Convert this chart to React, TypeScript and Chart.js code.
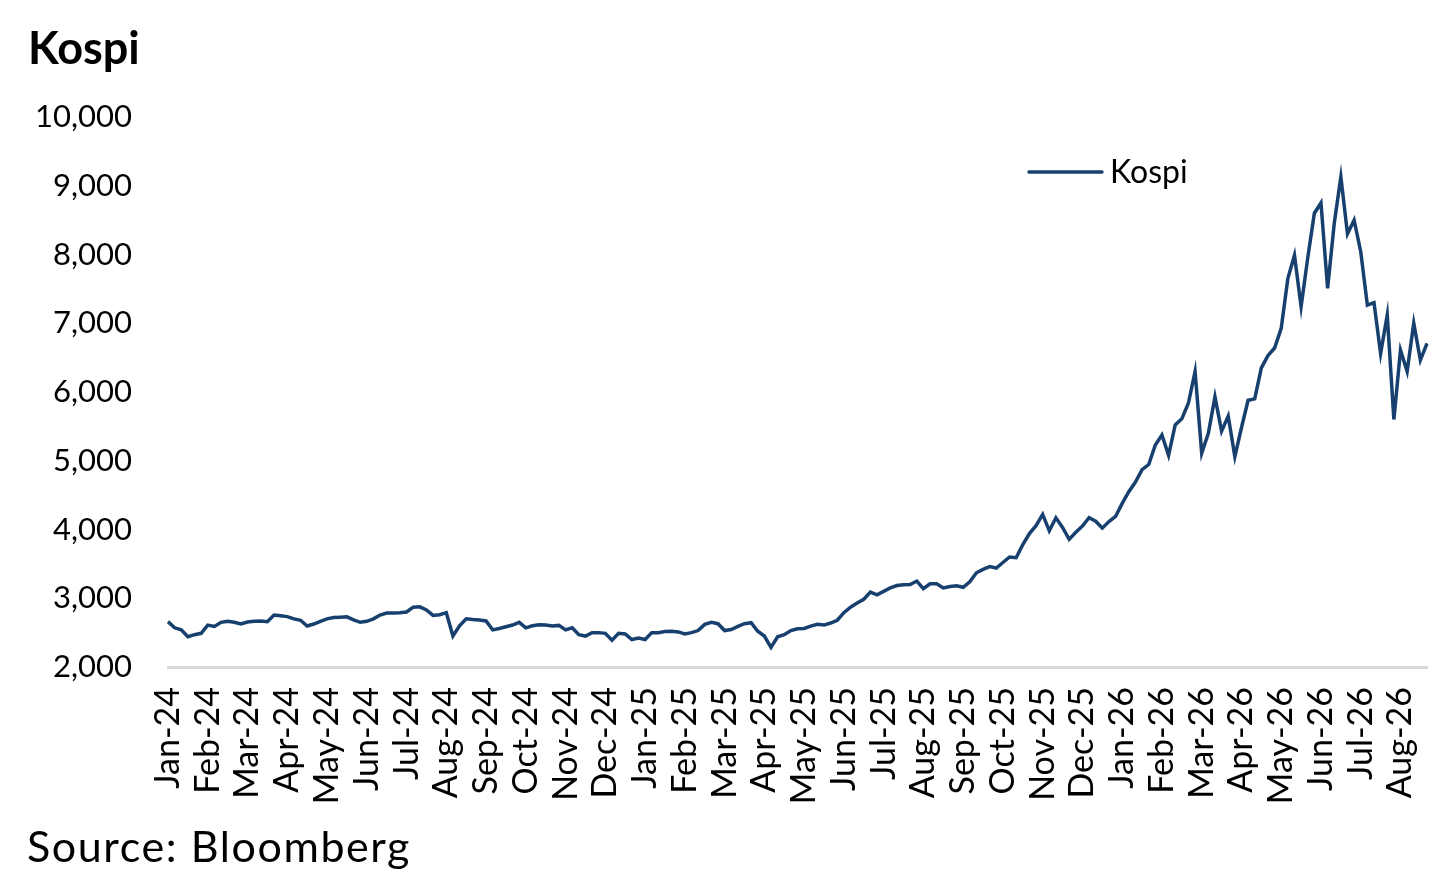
import { useEffect, useRef } from 'react'
import { Chart, registerables } from 'chart.js'

Chart.register(...registerables)

const monthLabels = [
  'Jan-24', 'Feb-24', 'Mar-24', 'Apr-24', 'May-24', 'Jun-24', 'Jul-24', 'Aug-24', 'Sep-24', 'Oct-24', 'Nov-24', 'Dec-24',
  'Jan-25', 'Feb-25', 'Mar-25', 'Apr-25', 'May-25', 'Jun-25', 'Jul-25', 'Aug-25', 'Sep-25', 'Oct-25', 'Nov-25', 'Dec-25',
  'Jan-26', 'Feb-26', 'Mar-26', 'Apr-26', 'May-26', 'Jun-26', 'Jul-26', 'Aug-26'
]

// roughly weekly closes, 6 samples per month
const samplesPerMonth = 6

const kospi2024 = [
  2660, 2570, 2540, 2440, 2470, 2490,
  2610, 2590, 2650, 2665, 2650, 2625,
  2655, 2665, 2670, 2660, 2756, 2745,
  2733, 2700, 2680, 2596, 2625, 2665,
  2700, 2720, 2725, 2730, 2685, 2650,
  2665, 2700, 2756, 2785, 2785, 2790,
  2800, 2870, 2875, 2830, 2750, 2760,
  2790, 2450, 2600, 2700, 2690, 2685,
  2670, 2540, 2560, 2585, 2610, 2650,
  2570, 2600, 2615, 2610, 2595, 2605,
  2540, 2570, 2470, 2450, 2500, 2500,
  2490, 2390, 2490, 2480, 2400, 2420
]

const kospi2025 = [
  2400, 2500, 2500, 2515, 2520, 2510,
  2480, 2500, 2530, 2620, 2650, 2630,
  2530, 2545, 2590, 2630, 2645, 2520,
  2450, 2286, 2440, 2470, 2530, 2555,
  2560, 2595, 2620, 2610, 2640, 2680,
  2790, 2870, 2930, 2985, 3090, 3050,
  3100, 3150, 3185, 3195, 3200, 3250,
  3140, 3210, 3210, 3150, 3170, 3180,
  3160, 3240, 3370, 3420, 3460, 3440,
  3520, 3600, 3590, 3780, 3940, 4055,
  4220, 3980, 4170, 4030, 3856, 3960,
  4050, 4172, 4120, 4020, 4115, 4190
]

const kospi2026 = [
  4380, 4550, 4690, 4870, 4945, 5229,
  5375, 5080, 5520, 5610, 5840, 6300,
  5110, 5400, 5930, 5430, 5650, 5060,
  5480, 5880, 5900, 6350, 6530, 6640,
  6926, 7650, 7990, 7241, 7950, 8600,
  8750, 7508, 8450, 9130, 8300, 8500,
  8040, 7265, 7300, 6560, 7120, 5600,
  6611, 6300, 7000, 6465, 6708
]

const kospi = [...kospi2024, ...kospi2025, ...kospi2026]

const yMin = 2000
const yMax = 10000
const yStep = 1000

const lineColor = '#17406f'
const font = 'Lato, "Open Sans", sans-serif'

// legend drawn inside the plot, like the original
const legendPlugin = {
  id: 'insideLegend',
  afterDraw(chart: Chart) {
    const ctx = chart.ctx
    ctx.save()
    ctx.strokeStyle = lineColor
    ctx.lineWidth = 3.5
    ctx.lineCap = 'round'
    ctx.beginPath()
    ctx.moveTo(1029, 172)
    ctx.lineTo(1102, 172)
    ctx.stroke()
    ctx.fillStyle = '#000'
    ctx.font = `32px ${font}`
    ctx.textBaseline = 'middle'
    ctx.fillText('Kospi', 1110, 173)
    ctx.restore()
  }
}

export default function App() {
  const chartRef = useRef<HTMLCanvasElement>(null)
  const chartInstance = useRef<Chart | null>(null)

  useEffect(() => {
    document.body.style.margin = '0'
    if (!chartRef.current) return
    if (chartInstance.current) chartInstance.current.destroy()

    const labels = kospi.map((_, i) => monthLabels[Math.floor(i / samplesPerMonth)])

    chartInstance.current = new Chart(chartRef.current, {
      type: 'line',
      data: {
        labels,
        datasets: [
          {
            label: 'Kospi',
            data: kospi,
            borderColor: lineColor,
            borderWidth: 3.5,
            pointRadius: 0,
            tension: 0,
            fill: false
          }
        ]
      },
      options: {
        responsive: false,
        animation: false,
        layout: { padding: { top: 117, right: 28, left: 0, bottom: 0 } },
        plugins: {
          legend: { display: false },
          tooltip: { enabled: false },
          title: { display: false }
        },
        scales: {
          x: {
            type: 'category',
            offset: false,
            grid: { display: false, drawTicks: false },
            border: { display: true, color: '#d9d9d9', width: 3 },
            afterFit: (scale: any) => {
              scale.height = 207
              scale.paddingLeft = 0
              scale.paddingRight = 0
            },
            ticks: {
              autoSkip: false,
              maxRotation: 90,
              minRotation: 90,
              padding: 20,
              color: '#000',
              font: { family: font, size: 34 },
              callback: (_v: any, i: number) => (i % samplesPerMonth === 0 ? labels[i] : null)
            }
          },
          y: {
            min: yMin,
            max: yMax,
            grid: { display: false, drawTicks: false },
            border: { display: false },
            afterFit: (scale: any) => { scale.width = 168 },
            ticks: {
              stepSize: yStep,
              padding: 36,
              color: '#000',
              font: { family: font, size: 31 },
              callback: (v: any) => Number(v).toLocaleString('en-US')
            }
          }
        }
      },
      plugins: [legendPlugin]
    })

    return () => {
      if (chartInstance.current) {
        chartInstance.current.destroy()
        chartInstance.current = null
      }
    }
  }, [])

  return (
    <div style={{ position: 'relative', width: 1455, height: 874, background: '#fff', fontFamily: font }}>
      <canvas ref={chartRef} width={1455} height={874} style={{ position: 'absolute', left: 0, top: 0 }} />
      <div style={{ position: 'absolute', left: 28, top: 25, fontSize: 45, fontWeight: 700, lineHeight: 1, color: '#000' }}>
        Kospi
      </div>
      <div style={{ position: 'absolute', left: 27, top: 824, fontSize: 43, letterSpacing: 1.6, lineHeight: 1, color: '#000' }}>
        Source: Bloomberg
      </div>
    </div>
  )
}
